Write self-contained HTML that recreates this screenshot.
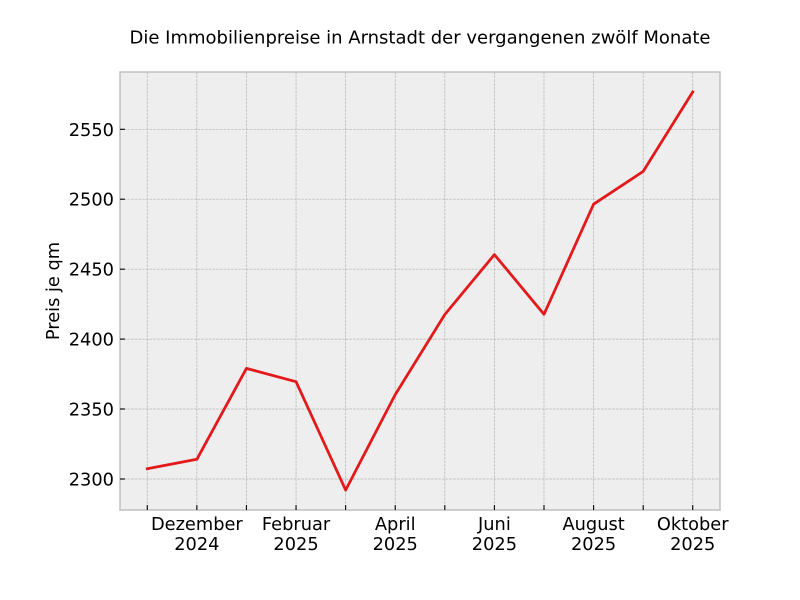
<!DOCTYPE html>
<html>
<head>
<meta charset="utf-8">
<style>
html,body{margin:0;padding:0;background:#fff;}
svg{display:block;}
text{font-family:"DejaVu Sans","Liberation Sans",sans-serif;fill:#000;}
</style>
</head>
<body>
<svg width="800" height="600" viewBox="0 0 800 600" xmlns="http://www.w3.org/2000/svg">
<rect x="0" y="0" width="800" height="600" fill="#ffffff"/>
<rect x="120" y="72" width="600" height="438" fill="#eeeeee"/>
<g stroke="#b2b2b2" stroke-width="0.7" stroke-dasharray="2.6,1.1" fill="none">
<line x1="147.27" y1="72" x2="147.27" y2="510"/>
<line x1="196.86" y1="72" x2="196.86" y2="510"/>
<line x1="246.45" y1="72" x2="246.45" y2="510"/>
<line x1="296.05" y1="72" x2="296.05" y2="510"/>
<line x1="345.64" y1="72" x2="345.64" y2="510"/>
<line x1="395.23" y1="72" x2="395.23" y2="510"/>
<line x1="444.82" y1="72" x2="444.82" y2="510"/>
<line x1="494.41" y1="72" x2="494.41" y2="510"/>
<line x1="544.0" y1="72" x2="544.0" y2="510"/>
<line x1="593.6" y1="72" x2="593.6" y2="510"/>
<line x1="643.2" y1="72" x2="643.2" y2="510"/>
<line x1="692.73" y1="72" x2="692.73" y2="510"/>
<line x1="120" y1="479.0" x2="720" y2="479.0"/>
<line x1="120" y1="409.0" x2="720" y2="409.0"/>
<line x1="120" y1="339.1" x2="720" y2="339.1"/>
<line x1="120" y1="269.2" x2="720" y2="269.2"/>
<line x1="120" y1="199.2" x2="720" y2="199.2"/>
<line x1="120" y1="129.3" x2="720" y2="129.3"/>
</g>
<polyline fill="none" stroke="#e31a1c" stroke-width="2.78" stroke-linejoin="round" stroke-linecap="square"
points="147.27,468.7 196.86,459.3 246.45,368.4 296.05,381.7 345.64,490.1 395.23,394.6 444.82,314.5 494.41,254.6 544.0,314.3 593.6,204.2 643.2,171.4 692.73,91.9"/>
<rect x="120" y="72" width="600" height="438" fill="none" stroke="#bcbcbc" stroke-width="1.39"/>
<g stroke="#000" stroke-width="1.1">
<line x1="147.27" y1="510" x2="147.27" y2="505.1"/>
<line x1="196.86" y1="510" x2="196.86" y2="505.1"/>
<line x1="246.45" y1="510" x2="246.45" y2="505.1"/>
<line x1="296.05" y1="510" x2="296.05" y2="505.1"/>
<line x1="345.64" y1="510" x2="345.64" y2="505.1"/>
<line x1="395.23" y1="510" x2="395.23" y2="505.1"/>
<line x1="444.82" y1="510" x2="444.82" y2="505.1"/>
<line x1="494.41" y1="510" x2="494.41" y2="505.1"/>
<line x1="544.0" y1="510" x2="544.0" y2="505.1"/>
<line x1="593.6" y1="510" x2="593.6" y2="505.1"/>
<line x1="643.2" y1="510" x2="643.2" y2="505.1"/>
<line x1="692.73" y1="510" x2="692.73" y2="505.1"/>
<line x1="120" y1="479.0" x2="124.9" y2="479.0"/>
<line x1="120" y1="409.0" x2="124.9" y2="409.0"/>
<line x1="120" y1="339.1" x2="124.9" y2="339.1"/>
<line x1="120" y1="269.2" x2="124.9" y2="269.2"/>
<line x1="120" y1="199.2" x2="124.9" y2="199.2"/>
<line x1="120" y1="129.3" x2="124.9" y2="129.3"/>
</g>
<g font-size="17.8" text-anchor="end">
<text x="114" y="485.5">2300</text>
<text x="114" y="415.5">2350</text>
<text x="114" y="345.6">2400</text>
<text x="114" y="275.7">2450</text>
<text x="114" y="205.7">2500</text>
<text x="114" y="135.8">2550</text>
</g>
<g font-size="17.8" text-anchor="middle">
<text x="196.86" y="529.8">Dezember</text>
<text x="196.86" y="549.8">2024</text>
<text x="296.05" y="529.8">Februar</text>
<text x="296.05" y="549.8">2025</text>
<text x="395.23" y="529.8">April</text>
<text x="395.23" y="549.8">2025</text>
<text x="494.41" y="529.8">Juni</text>
<text x="494.41" y="549.8">2025</text>
<text x="593.6" y="529.8">August</text>
<text x="593.6" y="549.8">2025</text>
<text x="692.73" y="529.8">Oktober</text>
<text x="692.73" y="549.8">2025</text>
</g>
<text x="59" y="291" font-size="17.8" text-anchor="middle" transform="rotate(-90 59 291)">Preis je qm</text>
<text x="420" y="43.5" font-size="18" text-anchor="middle">Die Immobilienpreise in Arnstadt der vergangenen zwölf Monate</text>
</svg>
</body>
</html>
